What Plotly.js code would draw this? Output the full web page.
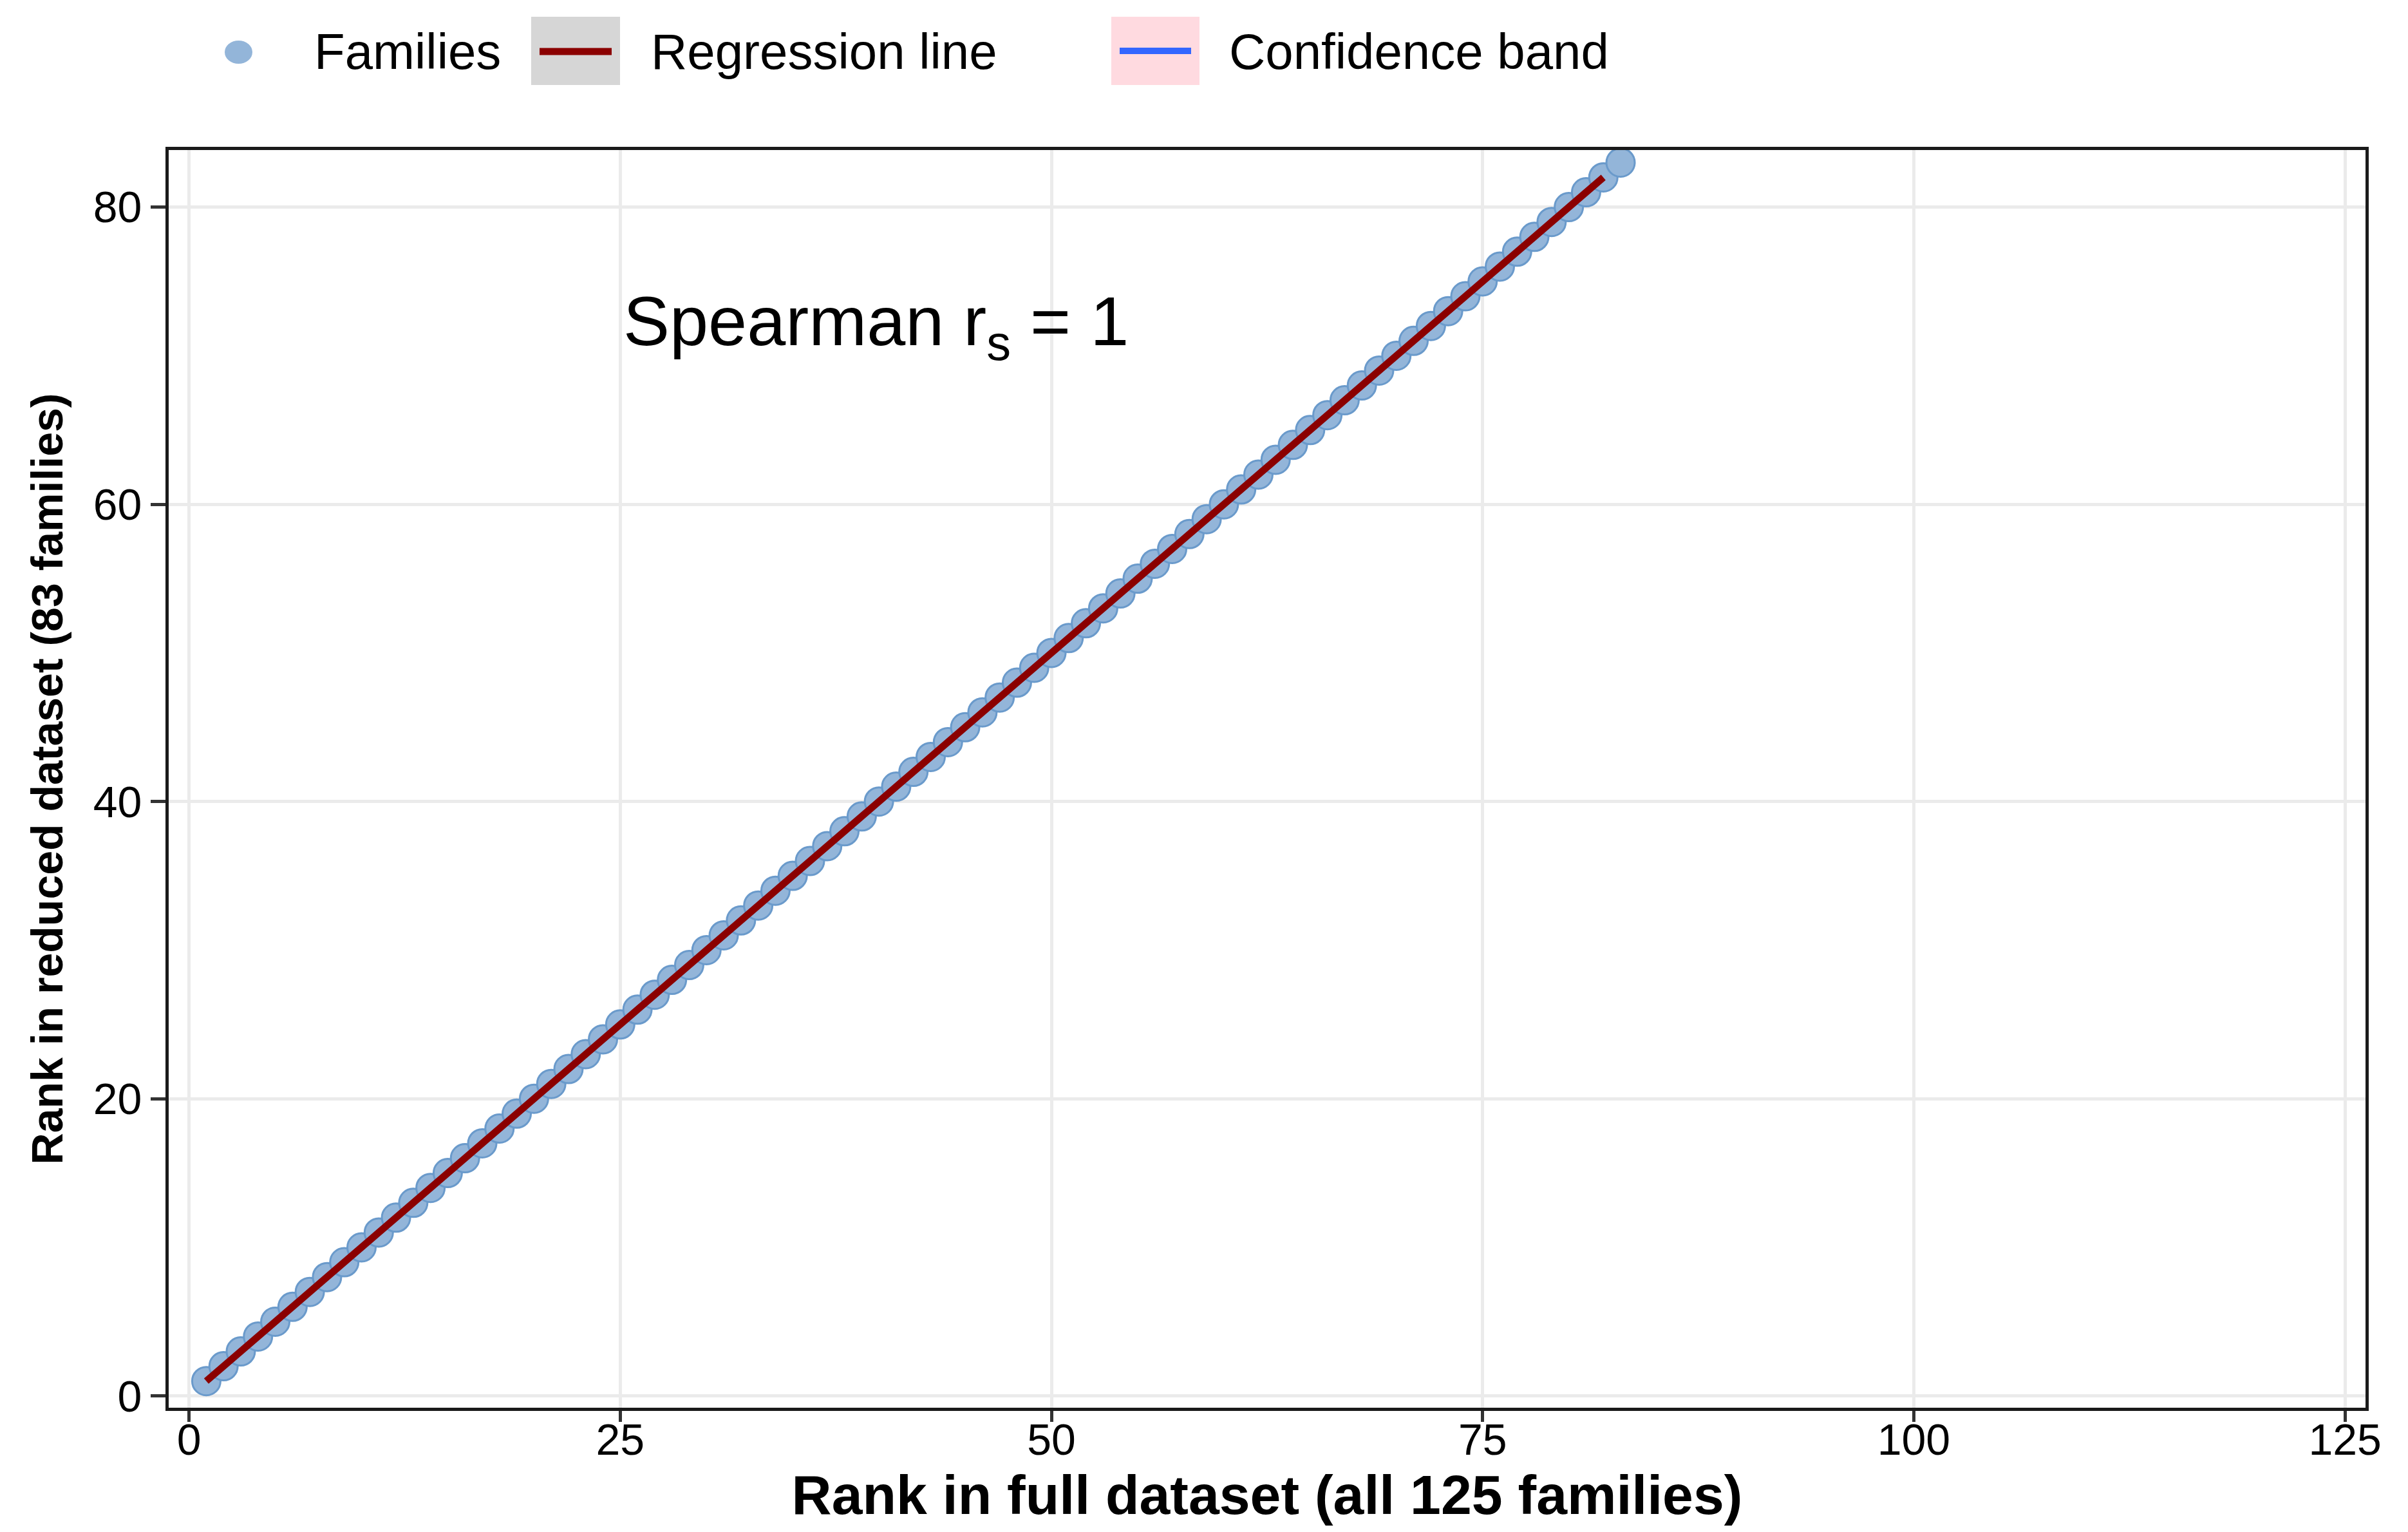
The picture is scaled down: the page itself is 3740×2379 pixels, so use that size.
<!DOCTYPE html>
<html>
<head>
<meta charset="utf-8">
<script src="https://cdn.plot.ly/plotly-3.0.1.min.js"></script>
<style>
  html, body { margin: 0; padding: 0; background: #fff; }
  #chart { width: 3740px; height: 2379px; }
</style>
</head>
<body>
<div id="chart"></div>
<script>
// Rank of each family in the full dataset (x) and in the reduced dataset (y)
const rankFull = [
  1, 2, 3, 4, 5, 6, 7, 8, 9, 10, 11, 12, 13, 14, 15, 16, 17, 18, 19, 20,
  21, 22, 23, 24, 25, 26, 27, 28, 29, 30, 31, 32, 33, 34, 35, 36, 37, 38, 39, 40,
  41, 42, 43, 44, 45, 46, 47, 48, 49, 50, 51, 52, 53, 54, 55, 56, 57, 58, 59, 60,
  61, 62, 63, 64, 65, 66, 67, 68, 69, 70, 71, 72, 73, 74, 75, 76, 77, 78, 79, 80,
  81, 82, 83
];
const rankReduced = [
  1, 2, 3, 4, 5, 6, 7, 8, 9, 10, 11, 12, 13, 14, 15, 16, 17, 18, 19, 20,
  21, 22, 23, 24, 25, 26, 27, 28, 29, 30, 31, 32, 33, 34, 35, 36, 37, 38, 39, 40,
  41, 42, 43, 44, 45, 46, 47, 48, 49, 50, 51, 52, 53, 54, 55, 56, 57, 58, 59, 60,
  61, 62, 63, 64, 65, 66, 67, 68, 69, 70, 71, 72, 73, 74, 75, 76, 77, 78, 79, 80,
  81, 82, 83
];

// Fitted regression line end points
const fitX = [1, 82];
const fitY = [1, 82];

const xTicks = [0, 25, 50, 75, 100, 125];
const yTicks = [0, 20, 40, 60, 80];

const legendLabels = ['Families', 'Regression line', 'Confidence band'];
const spearmanText = 'Spearman r<sub>s</sub> = 1';

// Figure geometry (pixels)
const W = 3740, H = 2379;
const M = { l: 262, r: 66, t: 233, b: 193 };
const plotW = W - M.l - M.r;
const plotH = H - M.t - M.b;
// pixel -> paper helpers for the hand-built legend
const px = x => (x - M.l) / plotW;
const py = y => (H - M.b - y) / plotH;

const FONT = 'Liberation Sans, Arial, sans-serif';

const traces = [
  {
    x: rankFull,
    y: rankReduced,
    type: 'scatter',
    mode: 'markers',
    name: legendLabels[0],
    marker: {
      size: 44,
      color: '#93B5D9',
      line: { color: '#6A9ACB', width: 3 }
    },
    hoverinfo: 'skip'
  },
  {
    x: fitX,
    y: fitY,
    type: 'scatter',
    mode: 'lines',
    name: legendLabels[1],
    line: { color: '#8B0000', width: 11 },
    hoverinfo: 'skip'
  }
];

const axisCommon = {
  showgrid: true,
  gridcolor: '#EBEBEB',
  gridwidth: 5,
  zeroline: false,
  showline: true,
  mirror: true,
  linecolor: '#1a1a1a',
  linewidth: 5,
  ticks: 'outside',
  tickwidth: 5,
  tickcolor: '#333333',
  tickfont: { family: FONT, size: 68, color: '#000' },
  automargin: false
};

const layout = {
  width: W,
  height: H,
  margin: { l: M.l, r: M.r, t: M.t, b: M.b, pad: 0 },
  paper_bgcolor: '#ffffff',
  plot_bgcolor: '#ffffff',
  showlegend: false,
  font: { family: FONT, color: '#000' },
  xaxis: Object.assign({}, axisCommon, {
    range: [-1.18, 126.19],
    tickmode: 'array',
    tickvals: xTicks,
    ticklen: 17,
    ticklabelstandoff: -31,
    title: {
      text: 'Rank in full dataset (all 125 families)',
      font: { family: FONT, size: 86, weight: 'bold', color: '#000' },
      standoff: 0
    }
  }),
  yaxis: Object.assign({}, axisCommon, {
    range: [-0.79, 83.84],
    tickmode: 'array',
    tickvals: yTicks,
    ticklen: 23,
    title: {
      text: 'Rank in reduced dataset (83 families)',
      font: { family: FONT, size: 68, weight: 'bold', color: '#000' },
      standoff: 26
    }
  }),
  shapes: [
    // legend key backgrounds
    { type: 'rect', xref: 'paper', yref: 'paper', x0: px(825), x1: px(963), y0: py(26), y1: py(132),
      fillcolor: '#D6D6D6', line: { width: 0 }, layer: 'above' },
    { type: 'rect', xref: 'paper', yref: 'paper', x0: px(1726), x1: px(1863), y0: py(26), y1: py(132),
      fillcolor: '#FFDAE0', line: { width: 0 }, layer: 'above' },
    // legend keys
    { type: 'circle', xref: 'paper', yref: 'paper', x0: px(349), x1: px(392), y0: py(63), y1: py(99),
      fillcolor: '#93B5D9', line: { width: 0 }, layer: 'above' },
    { type: 'line', xref: 'paper', yref: 'paper', x0: px(838), x1: px(950), y0: py(80), y1: py(80),
      line: { color: '#8B0000', width: 11 }, layer: 'above' },
    { type: 'line', xref: 'paper', yref: 'paper', x0: px(1739), x1: px(1850), y0: py(79), y1: py(79),
      line: { color: '#3366FF', width: 10 }, layer: 'above' }
  ],
  annotations: [
    { xref: 'paper', yref: 'paper', x: px(486), y: py(80), xanchor: 'left', yanchor: 'middle',
      text: legendLabels[0], showarrow: false, font: { family: FONT, size: 78, color: '#000' } },
    { xref: 'paper', yref: 'paper', x: px(1009), y: py(80), xanchor: 'left', yanchor: 'middle',
      text: legendLabels[1], showarrow: false, font: { family: FONT, size: 78, color: '#000' } },
    { xref: 'paper', yref: 'paper', x: px(1907), y: py(80), xanchor: 'left', yanchor: 'middle',
      text: legendLabels[2], showarrow: false, font: { family: FONT, size: 78, color: '#000' } },
    // statistic label, placed in data units
    { xref: 'x', yref: 'y', x: 25.1, y: 72.0, xanchor: 'left', yanchor: 'middle',
      text: spearmanText, showarrow: false, font: { family: FONT, size: 108, color: '#000' } }
  ]
};

Plotly.newPlot('chart', traces, layout, { displayModeBar: false, responsive: false });
</script>
</body>
</html>
